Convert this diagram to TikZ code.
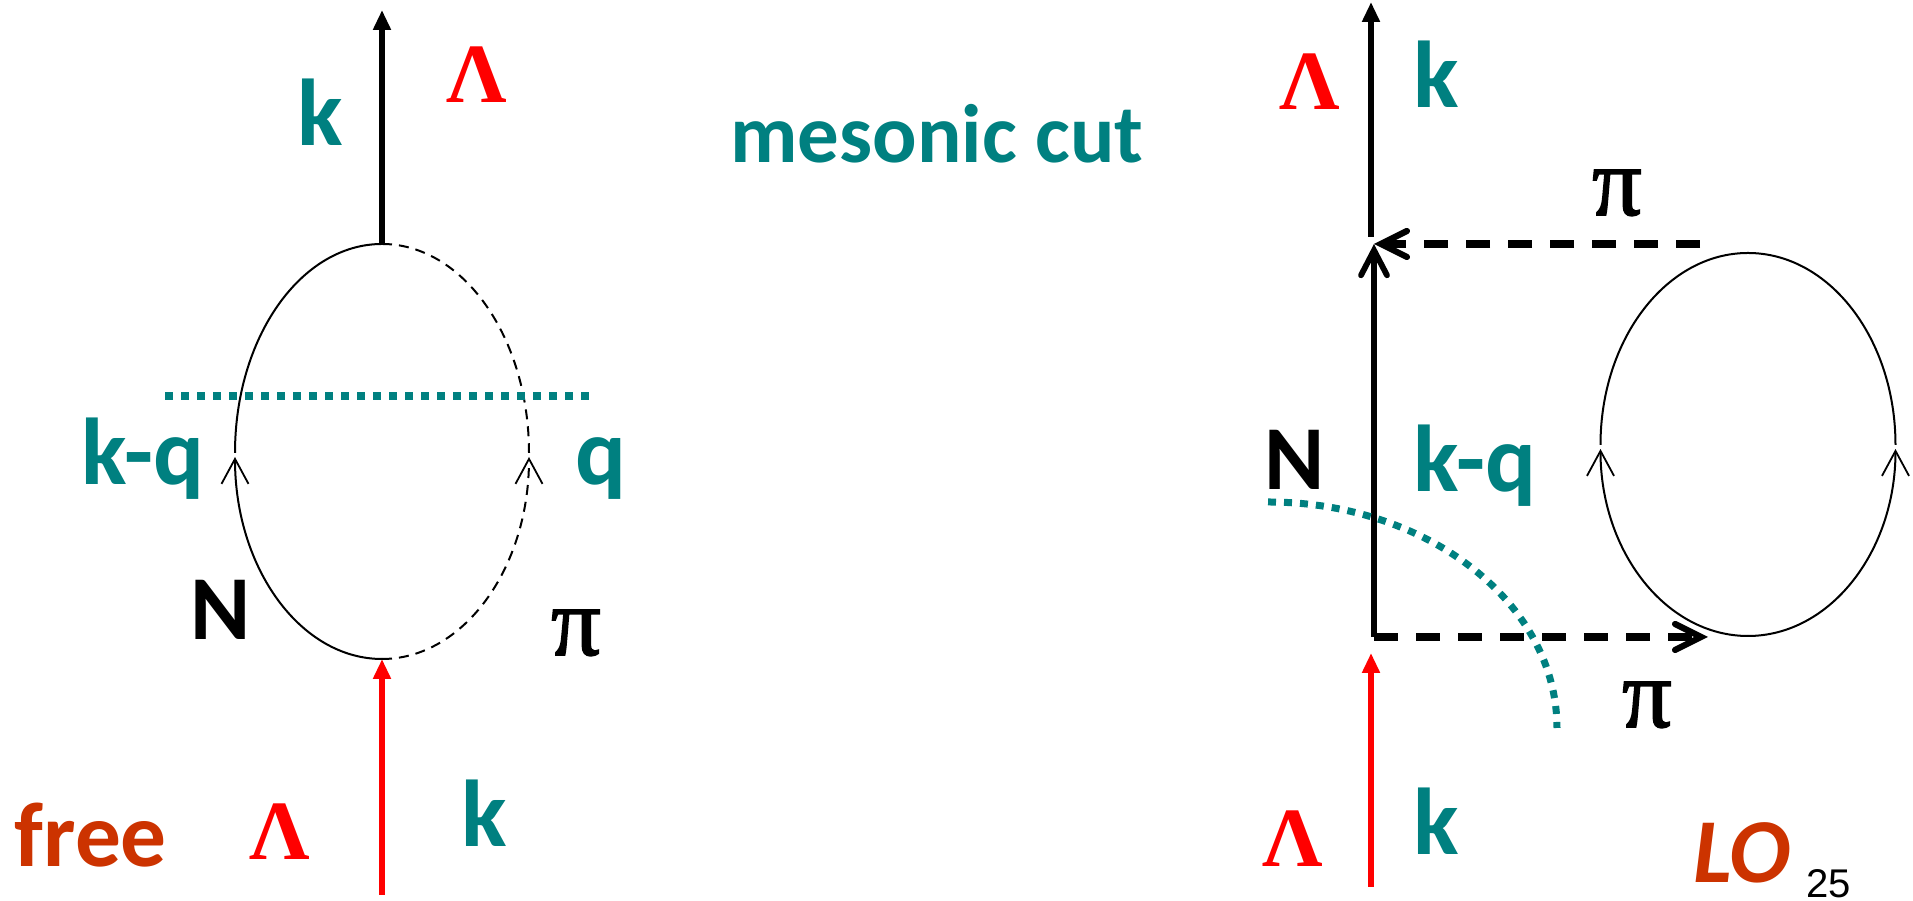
\documentclass[tikz,border=0pt]{standalone}
\usepackage{fontspec}
\setmainfont{Liberation Serif}
\newfontfamily\handfont{Carlito}
\newfontfamily\numfont{Liberation Sans}
\newfontfamily\pionfont[FakeBold=1.6]{Liberation Serif}
\usetikzlibrary{arrows.meta}
\definecolor{cutteal}{HTML}{008080}
\definecolor{notered}{HTML}{CC3300}
\tikzset{
    momlabel/.style={text=cutteal, anchor=base west, inner sep=0pt, font=\handfont\bfseries\fontsize{27}{27}\selectfont},
    partlabel/.style={anchor=base west, inner sep=0pt, font=\handfont\bfseries\fontsize{26}{26}\selectfont},
    notelabel/.style={text=notered, anchor=base west, inner sep=0pt, font=\handfont\bfseries\fontsize{26}{26}\selectfont},
    lamlabel/.style={text=red, anchor=base, inner sep=0pt, font=\bfseries\fontsize{24}{24}\selectfont},
    pilabel/.style={anchor=base, inner sep=0pt, font=\pionfont\fontsize{28}{28}\selectfont},
    hadron/.style={line width=0.058cm, -{Triangle[length=0.2cm,width=0.17cm]}},
    looparc/.style={line width=0.02cm},
    looptip/.style={-{Straight Barb[length=0.25cm,width=0.27cm,line width=0.018cm]}},
    pidash/.style={line width=0.075cm, dash pattern=on 0.24cm off 0.18cm, -{Straight Barb[length=0.26cm,width=0.26cm,line width=0.062cm,line cap=round]}},
    cutline/.style={cutteal, line width=0.075cm, dash pattern=on 0.08cm off 0.08cm},
}
\begin{document}
\begin{tikzpicture}
    \useasboundingbox (0,0) rectangle (19.13,9.01);

    % Left graph, vertices and end points
    \coordinate (ltop) at (3.82,6.57);
    \coordinate (lbot) at (3.82,2.42);
    \coordinate (lout) at (3.82,8.91);
    \coordinate (lin) at (3.82,0.06);
    \coordinate (lcutA) at (1.65,5.05);
    \coordinate (lcutB) at (5.90,5.05);

    % External lines
    \draw[hadron] (ltop) -- (lout);
    \draw[hadron,red] (lin) -- (lbot);

    % Nucleon and pion arcs
    \draw[looparc] (ltop) arc[start angle=90,end angle=180,x radius=1.47,y radius=2.09];
    \draw[looparc,looptip] (lbot) arc[start angle=270,end angle=180,x radius=1.47,y radius=2.02];
    \draw[looparc,dash pattern=on 0.1cm off 0.07cm] (ltop) arc[start angle=90,end angle=0,x radius=1.47,y radius=2.09];
    \draw[looparc,dash pattern=on 0.1cm off 0.07cm,looptip] (lbot) arc[start angle=-90,end angle=0,x radius=1.47,y radius=2.02];

    % Cut
    \draw[cutline] (lcutA) -- (lcutB);

    % Left labels
    \node[momlabel] (lk) at (2.97,7.55) {k};
    \node[lamlabel] (llamtop) at (4.77,7.98) {Λ};
    \node[momlabel] (lkq) at (0.81,4.16) {k-q};
    \node[momlabel] (lq) at (5.75,4.16) {q};
    \node[partlabel] (lnuc) at (1.90,2.61) {N};
    \node[pilabel] (lpi) at (5.76,2.46) {π};
    \node[notelabel] (lfree) at (0.14,0.34) {free};
    \node[lamlabel] (llambot) at (2.80,0.41) {Λ};
    \node[momlabel] (lkbot) at (4.61,0.54) {k};

    % Title
    \node[momlabel,anchor=base,font=\handfont\bfseries\fontsize{23.6}{24}\selectfont] (title) at (9.37,7.38) {mesonic cut};

    % Right graph, vertices and end points
    \coordinate (rtop) at (13.74,6.57);
    \coordinate (rbot) at (13.74,2.64);
    \coordinate (rout) at (13.71,8.99);
    \coordinate (routb) at (13.71,6.64);
    \coordinate (rin) at (13.71,0.14);
    \coordinate (rinb) at (13.71,2.48);
    \coordinate (rpiA) at (17.00,6.57);
    \coordinate (rpiB) at (17.08,2.64);
    \coordinate (rltop) at (17.48,6.48);
    \coordinate (rlbot) at (17.48,2.65);
    \coordinate (rcutA) at (12.68,3.99);

    % External lines
    \draw[hadron] (routb) -- (rout);
    \draw[hadron,red] (rin) -- (rinb);

    % Nucleon line with the two pions
    \draw[line width=0.058cm, -{Straight Barb[length=0.25cm,width=0.26cm,line cap=round]}] (rbot) -- (rtop);
    \draw[pidash] (rpiA) -- (rtop);
    \draw[pidash] (rbot) -- (rpiB);

    % Pion loop
    \draw[looparc] (rltop) arc[start angle=90,end angle=180,x radius=1.475,y radius=1.92];
    \draw[looparc] (rltop) arc[start angle=90,end angle=0,x radius=1.475,y radius=1.92];
    \draw[looparc,looptip] (rlbot) arc[start angle=270,end angle=180,x radius=1.475,y radius=1.87];
    \draw[looparc,looptip] (rlbot) arc[start angle=-90,end angle=0,x radius=1.475,y radius=1.87];

    % Cut
    \draw[cutline,line width=0.07cm] (rcutA) arc[start angle=90,end angle=0,x radius=2.89,y radius=2.26];

    % Right labels
    \node[lamlabel] (rlamtop) at (13.10,7.91) {Λ};
    \node[momlabel] (rk) at (14.13,7.93) {k};
    \node[pilabel] (rpitop) at (16.17,6.86) {π};
    \node[partlabel] (rnuc) at (12.64,4.11) {N};
    \node[momlabel] (rkq) at (14.13,4.09) {k-q};
    \node[pilabel] (rpibot) at (16.47,1.74) {π};
    \node[lamlabel] (rlambot) at (12.93,0.34) {Λ};
    \node[momlabel] (rkbot) at (14.13,0.46) {k};
    \node[notelabel,font=\handfont\bfseries\itshape\fontsize{26}{26}\selectfont] (rlo) at (16.93,0.18) {LO};
    \node[anchor=base west,inner sep=0pt,font=\numfont\fontsize{11.4}{12}\selectfont] (pagenum) at (18.06,0.03) {25};
\end{tikzpicture}
\end{document}
